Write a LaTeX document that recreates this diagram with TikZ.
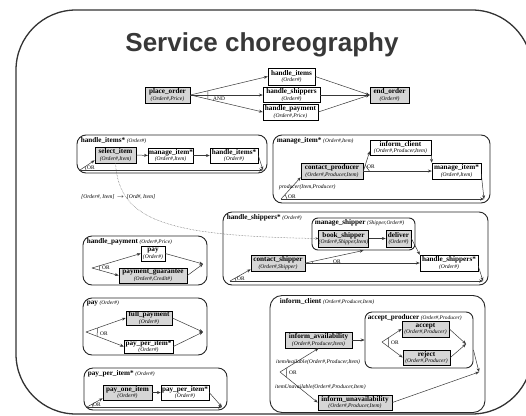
\documentclass[tikz,border=0pt]{standalone}
\usepackage{fontspec}
\setmainfont{Liberation Serif}
\newfontfamily\titlefont{Liberation Sans}
\usetikzlibrary{arrows.meta,calc}

% activity name and its parameters inside a box
\newcommand{\nmt}[1]{{\fontsize{7.2}{6.8}\selectfont\bfseries #1}}
\newcommand{\argt}[1]{{\fontsize{5.6}{6}\selectfont\itshape #1}}
% heading of a composite activity
\newcommand{\pttl}[2]{{\fontsize{7.2}{7}\selectfont\bfseries #1}\,{\fontsize{5.4}{5.4}\selectfont\itshape #2}}

\tikzset{
  sz/.style 2 args={minimum width=#1pt, minimum height=#2pt},
  gbox/.style={draw=black, line width=0.7pt, fill=black!16, inner sep=0pt,
    align=center, font=\fontsize{7.2}{6.8}\selectfont},
  wbox/.style={draw=black, line width=0.5pt, fill=white, inner sep=0pt,
    align=center, font=\fontsize{7.2}{6.8}\selectfont},
  panel/.style={draw=black!85, line width=0.9pt, rounded corners=9pt, inner sep=0pt},
  ptitle/.style={anchor=north west, inner sep=0pt},
  flow/.style={draw=black!78, line width=0.5pt, -{Stealth[length=3.8pt,width=3pt]}},
  plain/.style={draw=black!78, line width=0.5pt},
  orlbl/.style={anchor=west, inner sep=0pt, font=\fontsize{5.4}{5.4}\selectfont},
  cond/.style={anchor=west, inner sep=0pt, font=\fontsize{5.6}{5.6}\selectfont\itshape},
}

\begin{document}
\begin{tikzpicture}[x=1pt, y=-1pt]
\useasboundingbox (0,0) rectangle (526,415);
\fill[white] (0,0) rectangle (526,415);

% outer frame and heading
\begin{scope}
  \clip (0,0) rectangle (526,415);
  \draw[draw=black!80, line width=1.3pt, rounded corners=60pt] (16,10) rectangle (532,414);
\end{scope}
\node[anchor=base, text=black!78, inner sep=0pt] (heading) at (262,51)
  {\titlefont\fontsize{26}{28}\selectfont\bfseries Service choreography};

% ---------- top level ----------
\node[gbox, sz={45}{16}] (place) at (167.5,95) {\nmt{place\_order}\\\argt{(Order\#,Price)}};
\node[wbox, sz={47}{17}] (hitems) at (291.5,76.5) {\nmt{handle\_items}\\\argt{(Order\#)}};
\node[wbox, sz={57}{15}] (hship) at (291.5,95) {\nmt{handle\_shippers}\\\argt{(Order\#)}};
\node[wbox, sz={55}{16}] (hpay) at (290.5,112) {\nmt{handle\_payment}\\\argt{(Order\#,Price)}};
\node[gbox, sz={39}{16}] (endo) at (389.5,95) {\nmt{end\_order}\\\argt{(Order\#)}};
\draw[flow] (place.east) -- (hitems.west);
\draw[flow] (place.east) -- (hship.west);
\draw[flow] (place.east) -- (hpay.west);
\draw[flow] (hitems.east) -- (endo.west);
\draw[flow] (hship.east) -- (endo.west);
\draw[flow] (hpay.east) -- (endo.west);
\draw[plain] ($(place.east)!18pt!(hitems.west)$) -- ($(place.east)!18pt!(hpay.west)$);
\node[orlbl] (andl) at (213,98.5) {AND};

% ---------- handle_items* ----------
\node[panel, sz={190}{38}] (pHI) at (172,154) {};
\node[ptitle] (tHI) at ($(pHI.north west)+(4,2.5)$) {\pttl{handle\_items*}{(Order\#)}};
\node[gbox, sz={41}{16}] (sel) at (115.5,155) {\nmt{select\_item}\\\argt{(Order\#,Item)}};
\node[wbox, sz={41}{15}] (mi1) at (170.5,155.5) {\nmt{manage\_item*}\\\argt{(Order\#,Item)}};
\node[wbox, sz={48}{15}] (hi2) at (234,155.5) {\nmt{handle\_items*}\\\argt{(Order\#)}};
\draw[flow] (sel.east) -- (mi1.west);
\draw[flow] (mi1.east) -- (hi2.west);
\coordinate (hiOr) at (80,170);
\coordinate (hiEnd) at (263,170);
\draw[flow] (hiOr) -- ([yshift=3pt]sel.south west);
\draw[flow] (hiOr) -- (hiEnd);
\draw[flow] (hi2.east) -- (hiEnd);
\draw[plain] ($(hiOr)!6pt!([yshift=3pt]sel.south west)$) -- ($(hiOr)!6pt!(hiEnd)$);
\node[orlbl] (orHI) at (87,167.5) {OR};

% ---------- manage_item* ----------
\node[panel, sz={217}{68}] (pMI) at (381.5,169) {};
\node[ptitle] (tMI) at ($(pMI.north west)+(4,2.5)$) {\pttl{manage\_item*}{(Order\#,Item)}};
\node[wbox, sz={61}{15}] (ic) at (400.5,147.5) {\nmt{inform\_client}\\\argt{(Order\#,Producer,Item)}};
\node[gbox, sz={62}{16}] (cp) at (332,171) {\nmt{contact\_producer}\\\argt{(Order\#,Producer,Item)}};
\node[wbox, sz={49}{16}] (mi2) at (456.5,171) {\nmt{manage\_item*}\\\argt{(Order\#,Item)}};
\draw[flow] (cp.east) -- ([yshift=4pt]ic.south west);
\draw[flow] (cp.east) -- (mi2.west);
\draw[flow] (ic.south east) -- (mi2.north west);
\draw[plain] ($(cp.east)!6pt!([yshift=4pt]ic.south west)$) -- ($(cp.east)!6pt!(mi2.west)$);
\node[orlbl] (orCP) at (367,166.5) {OR};
\coordinate (miOr) at (281,199);
\coordinate (miEnd) at (484,199);
\draw[flow] (miOr) -- ([yshift=2pt]cp.south west);
\draw[flow] (miOr) -- (miEnd);
\draw[flow] ([yshift=-3pt]mi2.east) -- (miEnd);
\draw[plain] ($(miOr)!6pt!([yshift=2pt]cp.south west)$) -- ($(miOr)!6pt!(miEnd)$);
\node[orlbl] (orMI) at (288,197) {OR};
\node[cond] (prodc) at (279,187) {producer(Item,Producer)};

% ---------- handle_shippers* ----------
\node[panel, sz={265}{73}] (pHS) at (355.5,248.5) {};
\node[ptitle] (tHS) at ($(pHS.north west)+(4,2.5)$) {\pttl{handle\_shippers*}{(Order\#)}};
\node[panel, rounded corners=6pt, sz={103}{32}] (pMS) at (363.5,234) {};
\node[ptitle] (tMS) at ($(pMS.north west)+(3,2)$) {\pttl{manage\_shipper}{(Shipper,Order\#)}};
\node[gbox, sz={47}{17}] (bs) at (343.5,238.5) {\nmt{book\_shipper}\\\argt{(Order\#,Shipper,Item)}};
\node[gbox, sz={25}{17}] (dl) at (398.5,238.5) {\nmt{deliver}\\\argt{(Order\#)}};
\node[gbox, sz={54}{16}] (cs) at (278,263) {\nmt{contact\_shipper}\\\argt{(Order\#,Shipper)}};
\node[wbox, sz={58}{16}] (hs2) at (449,263) {\nmt{handle\_shippers*}\\\argt{(Order\#)}};
\draw[flow] (bs.east) -- (dl.west);
\draw[flow] (cs.east) -- (pMS.south);
\draw[flow] (cs.east) -- (hs2.west);
\draw[flow] (dl.east) -- (hs2.north west);
\draw[plain] ($(cs.east)!7pt!(pMS.south)$) -- ($(cs.east)!7pt!(hs2.west)$);
\node[orlbl] (orCS) at (333,261.5) {OR};
\coordinate (hsOr) at (230,281);
\coordinate (hsEnd) at (483,281);
\draw[flow] (hsOr) -- ([yshift=2pt]cs.south west);
\draw[flow] (hsOr) -- (hsEnd);
\draw[flow] ([yshift=-3pt]hs2.east) -- (hsEnd);
\draw[plain] ($(hsOr)!6pt!([yshift=2pt]cs.south west)$) -- ($(hsOr)!6pt!(hsEnd)$);
\node[orlbl] (orHS) at (237,278.5) {OR};

% data mapping between select_item and book_shipper
\draw[draw=black!65, line width=0.5pt, densely dotted, -{Stealth[length=3pt,width=2.4pt]}]
  (sel.south) .. controls (119,222) and (170,236) .. (bs.west);
\node[cond] (mapl) at (81,197)
  {[Order\#, Item] \,$\rightarrow$\, [Ord\#, Item]};

% ---------- handle_payment ----------
\node[panel, sz={124}{49}] (pHP) at (145,260.5) {};
\node[ptitle] (tHP) at ($(pHP.north west)+(4,2.5)$) {\pttl{handle\_payment}{(Order\#,Price)}};
\node[wbox, sz={24}{15}] (pay) at (153,253.5) {\nmt{pay}\\\argt{(Order\#)}};
\node[gbox, sz={68}{15}] (pg) at (153,275.5) {\nmt{payment\_guarantee}\\\argt{(Order\#,Credit\#)}};
\coordinate (hpOr) at (92,268);
\coordinate (hpEnd) at (203,264);
\draw[flow] (hpOr) -- (pay.west);
\draw[flow] (hpOr) -- (pg.west);
\draw[flow] (pay.east) -- (hpEnd);
\draw[flow] (pg.east) -- (hpEnd);
\draw[plain] ($(hpOr)!8pt!(pay.west)$) -- ($(hpOr)!8pt!(pg.west)$);
\node[orlbl] (orHP) at (102,268) {OR};

% ---------- pay ----------
\node[panel, sz={124}{57}] (pPY) at (145,326.5) {};
\node[ptitle] (tPY) at ($(pPY.north west)+(4,3)$) {\pttl{pay}{(Order\#)}};
\node[gbox, sz={46}{14}] (fp) at (149,318) {\nmt{full\_payment}\\\argt{(Order\#)}};
\node[wbox, sz={49}{13}] (ppi) at (148.5,346.5) {\nmt{pay\_per\_item*}\\\argt{(Order\#)}};
\coordinate (pyOr) at (86,332);
\coordinate (pyEnd) at (203,332);
\draw[flow] (pyOr) -- (fp.west);
\draw[flow] (pyOr) -- (ppi.west);
\draw[flow] (fp.east) -- (pyEnd);
\draw[flow] (ppi.east) -- (pyEnd);
\draw[plain] ($(pyOr)!12pt!(fp.west)$) -- ($(pyOr)!12pt!(ppi.west)$);
\node[orlbl] (orPY) at (100,334) {OR};

% ---------- pay_per_item* ----------
\node[panel, sz={143}{42}] (pPP) at (155.5,389) {};
\node[ptitle] (tPP) at ($(pPP.north west)+(4,3)$) {\pttl{pay\_per\_item*}{(Order\#)}};
\node[gbox, sz={49}{15}] (poi) at (127.5,392.5) {\nmt{pay\_one\_item}\\\argt{(Order\#)}};
\node[wbox, sz={48}{15}] (ppi2) at (185,392.5) {\nmt{pay\_per\_item*}\\\argt{(Order\#)}};
\draw[flow] (poi.east) -- (ppi2.west);
\coordinate (ppOr) at (87,407);
\coordinate (ppEnd) at (222,407);
\draw[flow] (ppOr) -- ([yshift=2pt]poi.south west);
\draw[flow] (ppOr) -- (ppEnd);
\draw[flow] (ppi2.east) -- (ppEnd);
\draw[plain] ($(ppOr)!6pt!([yshift=2pt]poi.south west)$) -- ($(ppOr)!6pt!(ppEnd)$);
\node[orlbl] (orPP) at (93,405) {OR};

% ---------- inform_client ----------
\node[panel, rounded corners=12pt, sz={215}{117}] (pIC) at (377.5,354) {};
\node[ptitle] (tIC) at ($(pIC.north west)+(10,3)$) {\pttl{inform\_client}{(Order\#,Producer,Item)}};
\node[panel, rounded corners=7pt, sz={108}{56}] (pAP) at (419,340) {};
\node[ptitle] (tAP) at ($(pAP.north west)+(3,2.5)$) {\pttl{accept\_producer}{(Order\#,Producer)}};
\node[gbox, sz={47}{16}] (ac) at (425.5,329) {\nmt{accept}\\\argt{(Order\#,Producer)}};
\node[gbox, sz={47}{15}] (rj) at (426.5,357.5) {\nmt{reject}\\\argt{(Order\#,Producer)}};
\coordinate (apOr) at (382,342);
\coordinate (apEnd) at (466,344);
\draw[flow] (apOr) -- (ac.west);
\draw[flow] (apOr) -- (rj.west);
\draw[flow] (ac.east) -- (apEnd);
\draw[flow] (rj.east) -- (apEnd);
\draw[plain] ($(apOr)!8pt!(ac.west)$) -- ($(apOr)!8pt!(rj.west)$);
\node[orlbl] (orAP) at (391,343) {OR};
\node[gbox, sz={67}{16}] (ia) at (318.5,340) {\nmt{inform\_availability}\\\argt{(Order\#,Producer,Item)}};
\node[gbox, sz={74}{15}] (iu) at (355,402.5) {\nmt{inform\_unavailability}\\\argt{(Order\#,Producer,Item)}};
\draw[flow] (ia.east) -- (pAP.west);
\coordinate (icOr) at (280,372);
\coordinate (icEnd) at (479,372);
\draw[flow] (icOr) -- (ia.south);
\draw[flow] (icOr) -- (iu.west);
\draw[flow] ([yshift=-10pt]pAP.east) -- (icEnd);
\draw[flow] (iu.east) -- (icEnd);
\draw[plain] ($(icOr)!8pt!(ia.south)$) -- ($(icOr)!8pt!(iu.west)$);
\node[orlbl] (orIC) at (289,373) {OR};
\node[cond] (avail) at (276,362) {itemAvailable(Order\#,Producer,Item)};
\node[cond] (unavail) at (275,387) {itemUnavailable(Order\#,Producer,Item)};

\end{tikzpicture}
\end{document}
